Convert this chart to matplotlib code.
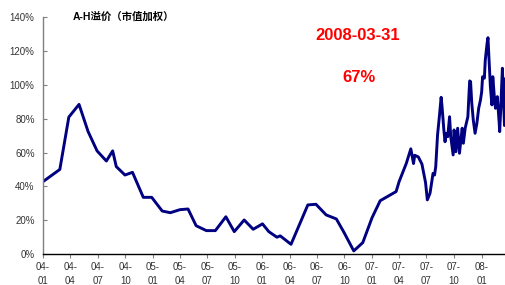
import numpy as np
import pandas as pd
import matplotlib
matplotlib.use("Agg")
import matplotlib.pyplot as plt
import matplotlib.dates as mdates
from matplotlib.ticker import FuncFormatter

plt.rcParams['font.family'] = ['Liberation Sans', 'Noto Sans CJK SC', 'DejaVu Sans']

# A-H premium (market-cap weighted)
dates = ["2004-01-01", "2004-02-26", "2004-03-27", "2004-04-30", "2004-05-30",
         "2004-06-29", "2004-07-30", "2004-08-20", "2004-09-01", "2004-09-30",
         "2004-10-25", "2004-11-30", "2004-12-28", "2005-02-01", "2005-02-28",
         "2005-04-01", "2005-04-28", "2005-05-25", "2005-06-28", "2005-07-28",
         "2005-09-01", "2005-09-29", "2005-11-01", "2005-12-01", "2006-01-01",
         "2006-01-22", "2006-02-18", "2006-03-01", "2006-04-06", "2006-06-01",
         "2006-06-28", "2006-08-01", "2006-09-04", "2006-09-28", "2006-11-01",
         "2006-12-01", "2007-01-01", "2007-01-28", "2007-03-22", "2007-04-01",
         "2007-04-25", "2007-05-10", "2007-05-19", "2007-05-23", "2007-06-04",
         "2007-06-16", "2007-06-22", "2007-06-28", "2007-07-04", "2007-07-13",
         "2007-07-19", "2007-07-23", "2007-07-28", "2007-08-01", "2007-08-07",
         "2007-08-13", "2007-08-19", "2007-08-22", "2007-08-28", "2007-09-01",
         "2007-09-04", "2007-09-10", "2007-09-16", "2007-09-20", "2007-09-28",
         "2007-10-01", "2007-10-07", "2007-10-13", "2007-10-19", "2007-10-28",
         "2007-11-01", "2007-11-07", "2007-11-16", "2007-11-19", "2007-11-22",
         "2007-11-25", "2007-11-29", "2007-12-04", "2007-12-10", "2007-12-16",
         "2007-12-22", "2007-12-28", "2008-01-01", "2008-01-04", "2008-01-10",
         "2008-01-13", "2008-01-19", "2008-01-22", "2008-01-25", "2008-01-30",
         "2008-02-04", "2008-02-07", "2008-02-13", "2008-02-16", "2008-02-22",
         "2008-02-28", "2008-03-01", "2008-03-04", "2008-03-10", "2008-03-13",
         "2008-03-17", "2008-03-21", "2008-03-31"]
premium = [42.8, 50.0, 81.0, 88.5, 72.5,
           61.0, 55.0, 61.0, 51.7, 46.7,
           48.3, 33.5, 33.5, 25.4, 24.4,
           26.2, 26.6, 16.7, 13.8, 13.8,
           22.0, 13.2, 20.1, 14.6, 17.8,
           13.2, 9.9, 10.7, 5.7, 29.0,
           29.4, 23.1, 20.7, 13.2, 1.8,
           6.7, 21.5, 31.5, 36.9, 42.8,
           53.6, 62.2, 53.5, 58.4, 57.4,
           53.2, 47.7, 42.3, 32.0, 36.0,
           43.0, 47.7, 46.7, 51.7, 70.4,
           81.2, 92.7, 87.2, 73.4, 66.4,
           71.4, 69.4, 81.2, 69.4, 58.6,
           73.4, 60.5, 74.4, 59.6, 74.4,
           65.5, 74.4, 81.2, 92.1, 102.4,
           102.0, 89.2, 79.3, 71.4, 77.3,
           86.2, 91.1, 96.0, 104.9, 104.0,
           114.8, 124.7, 128.0, 116.8, 99.0,
           88.2, 104.9, 91.1, 86.2, 93.1,
           78.3, 72.4, 84.2, 109.9, 93.1,
           76.0, 104.0, 67.0]
yticks = [0, 20, 40, 60, 80, 100, 120, 140]
last_date = "2008-03-31"
last_value = "67%"

x = pd.to_datetime(dates)
y = np.array(premium)

fig = plt.figure(figsize=(5.06, 2.85), dpi=100)
ax = fig.add_axes([0.085, 0.109, 0.915, 0.830])
ax.plot(x, y, color="#000080", lw=2.1, solid_joinstyle="round")

ax.set_xlim(pd.Timestamp("2004-01-01"), pd.Timestamp("2008-03-22"))
ax.set_ylim(0, 140)
ax.set_yticks(yticks)
ax.yaxis.set_major_formatter(FuncFormatter(lambda v, p: "%d%%" % v))
ax.xaxis.set_major_locator(mdates.MonthLocator(bymonth=[1, 4, 7, 10]))
ax.xaxis.set_major_formatter(mdates.DateFormatter("%y-\n%m"))

for s in ["top", "right"]:
    ax.spines[s].set_visible(False)
ax.spines["left"].set_color("#808080")
ax.spines["bottom"].set_color("black")
ax.spines["left"].set_linewidth(1.0)
ax.spines["bottom"].set_linewidth(1.0)
ax.tick_params(axis="y", direction="in", length=3, color="#808080",
               labelsize=7, labelcolor="#333333", pad=6)
ax.tick_params(axis="x", direction="out", length=3, color="#808080",
               labelsize=7, labelcolor="#333333", pad=3)
for lab in ax.get_xticklabels():
    lab.set_linespacing(1.5)

fig.text(73 / 506, 1 - 17 / 285, "A-H溢价（市值加权）", fontsize=7.5,
         fontweight="bold", va="center", ha="left",
         family=["Liberation Sans", "Noto Sans CJK SC"])
fig.text(358 / 506, 1 - 36 / 285, last_date, fontsize=12, fontweight="bold",
         color="red", ha="center", va="center")
fig.text(359 / 506, 1 - 77 / 285, last_value, fontsize=12, fontweight="bold",
         color="red", ha="center", va="center")

plt.savefig("out.png", dpi=100)
